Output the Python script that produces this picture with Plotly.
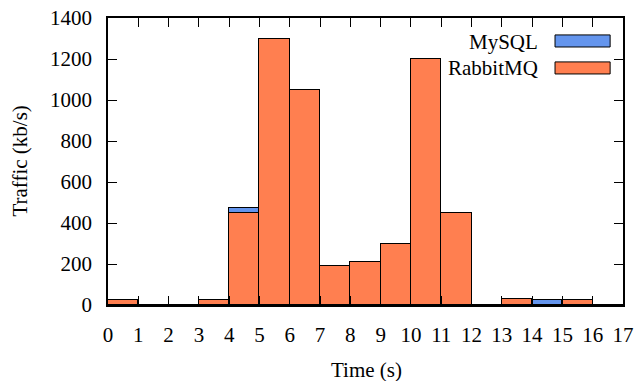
import plotly.graph_objects as go

time_start = list(range(17))
rabbitmq = [25, 0, 0, 25, 450, 1300, 1050, 190, 210, 300, 1200, 450, 0, 30, 0, 25, 0]
mysql = [0, 0, 0, 0, 25, 0, 0, 0, 0, 0, 0, 0, 0, 0, 25, 0, 0]
x_ticks = list(range(18))
y_ticks = [0, 200, 400, 600, 800, 1000, 1200, 1400]

series = [("RabbitMQ", rabbitmq, "#FF7F50"), ("MySQL", mysql, "#6495ED")]
FONT = "'Liberation Serif', 'Times New Roman', Times, serif"
FS = 21

fig = go.Figure()
for name, vals, col in series:
    fig.add_trace(go.Bar(
        x=[t + 0.5 for t in time_start], y=vals, width=1, name=name,
        marker=dict(color=col, line=dict(color="black", width=1)),
        showlegend=False))

# custom gnuplot-style legend (text right, key box at the right)
legend_items = [("MySQL", "#6495ED", 0.916, 0.941, 0.899),
                ("RabbitMQ", "#FF7F50", 0.826, 0.847, 0.805)]
shapes = []
annotations = []
for name, col, ty, y1, y0 in legend_items:
    shapes.append(dict(type="rect", xref="paper", yref="paper", x0=0.868, x1=0.975,
                       y0=y0, y1=y1, fillcolor=col, line=dict(color="black", width=1)))
    annotations.append(dict(text=name, xref="paper", yref="paper", x=0.839, y=ty,
                            xanchor="right", yanchor="middle", showarrow=False,
                            font=dict(family=FONT, size=FS, color="black")))

annotations.append(dict(text="Traffic (kb/s)", xref="paper", yref="paper", x=-0.171, y=0.503,
                        textangle=-90, showarrow=False, xanchor="center", yanchor="middle",
                        font=dict(family=FONT, size=FS, color="black")))
annotations.append(dict(text="Time (s)", xref="paper", yref="paper", x=0.501, y=-0.226,
                        showarrow=False, xanchor="center", yanchor="middle",
                        font=dict(family=FONT, size=FS, color="black")))

fig.update_layout(
    width=635, height=381,
    margin=dict(l=108, r=12, t=18, b=76, autoexpand=False),
    barmode="stack", bargap=0,
    plot_bgcolor="white", paper_bgcolor="white",
    font=dict(family=FONT, size=FS, color="black"),
    shapes=shapes, annotations=annotations,
    xaxis=dict(range=[0, 17], tickvals=x_ticks, ticktext=[str(v) for v in x_ticks],
               ticks="inside", ticklen=9, tickcolor="black", showline=True,
               linecolor="black", linewidth=1.5, mirror="ticks", showgrid=False,
               zeroline=False, ticklabelstandoff=10, automargin=False),
    yaxis=dict(range=[0, 1400], tickvals=y_ticks, ticktext=[str(v) for v in y_ticks],
               ticks="inside", ticklen=9, tickcolor="black", showline=True,
               linecolor="black", linewidth=1.5, mirror="ticks", showgrid=False,
               zeroline=False, ticklabelstandoff=10, automargin=False),
)

fig.write_html("out.html")
